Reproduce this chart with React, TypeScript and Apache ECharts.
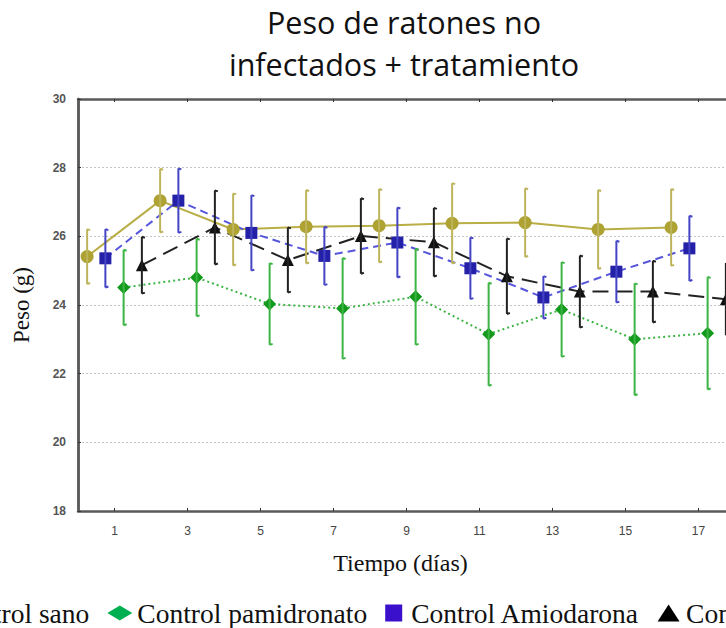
import React, { useEffect, useRef } from "react";
import * as echarts from "echarts";

// Sampling days (x axis ticks)
const DAYS = [1, 3, 5, 7, 9, 11, 13, 15, 17];
const X_TICKS = [1, 3, 5, 7, 9, 11, 13, 15, 17];

// Mean weight (g) and error per group
const sanoMean = [25.41, 27.04, 26.2, 26.28, 26.31, 26.38, 26.4, 26.2, 26.26];
const sanoErr = [0.8, 0.93, 1.05, 1.07, 1.07, 1.17, 1.0, 1.15, 1.12];

const pamiMean = [24.51, 24.8, 24.03, 23.9, 24.24, 23.15, 23.87, 23.0, 23.18];
const pamiErr = [1.1, 1.13, 1.19, 1.47, 1.4, 1.5, 1.38, 1.63, 1.64];

const amioMean = [25.36, 27.04, 26.1, 25.43, 25.82, 25.07, 24.22, 24.97, 25.65];
const amioErr = [0.85, 0.94, 1.1, 0.85, 1.02, 0.9, 0.62, 0.9, 0.95];

const combMean = [25.16, 26.26, 25.31, 26.01, 25.83, 24.84, 24.39, 24.39, 24.17];
const combErr = [0.83, 1.08, 0.95, 1.1, 1.0, 1.1, 1.05, 0.9, 1.05];

const SERIES_NAMES = [
  "Control sano",
  "Control pamidronato",
  "Control Amiodarona",
  "Control Amiodarona + pamidronato",
];

// The drawing surface is wider than the visible frame; the frame crops it.
const SHIFT = 80;
const CHART_W = 1300;
const CHART_H = 628;
const PLOT_RIGHT = 815; // x of the right axis on the drawing surface

// Legend icons (kept at their own aspect inside a 25x17 box)
const ICON_CIRCLE = "path://M8,0A8,8 0 1,1 7.99,0Z";
const ICON_DIAMOND = "path://M0,7.5L12.5,0L25,7.5L12.5,15Z";
const ICON_SQUARE = "path://M0,0H17V17H0Z";
const ICON_TRIANGLE = "path://M11,0L22,17H0Z";

type Group = {
  name: string;
  mean: number[];
  err: number[];
  dodge: number;
  color: string;
  lineColor: string;
  barColor: string;
  symbol: string;
  symbolSize: number;
  lineType: any;
};

const groups: Group[] = [
  {
    name: SERIES_NAMES[0], mean: sanoMean, err: sanoErr, dodge: -0.75,
    color: "#aea232", lineColor: "#b9ae45", barColor: "#bdb45c",
    symbol: "circle", symbolSize: 13, lineType: "solid",
  },
  {
    name: SERIES_NAMES[1], mean: pamiMean, err: pamiErr, dodge: 0.25,
    color: "#139a1c", lineColor: "#3cb444", barColor: "#3cb444",
    symbol: "diamond", symbolSize: 13, lineType: [2, 3],
  },
  {
    name: SERIES_NAMES[2], mean: amioMean, err: amioErr, dodge: -0.25,
    color: "#2420a8", lineColor: "#5656dc", barColor: "#4444c4",
    symbol: "rect", symbolSize: 12, lineType: [8, 5],
  },
  {
    name: SERIES_NAMES[3], mean: combMean, err: combErr, dodge: 0.75,
    color: "#111111", lineColor: "#222222", barColor: "#222222",
    symbol: "triangle", symbolSize: 12, lineType: [16, 8],
  },
];

function lineSeries(g: Group) {
  return {
    type: "line",
    name: g.name,
    data: DAYS.map((d, i) => [d + g.dodge, g.mean[i]]),
    symbol: g.symbol,
    symbolSize: g.symbolSize,
    itemStyle: { color: g.color },
    lineStyle: { color: g.lineColor, width: 2, type: g.lineType },
    z: 4,
  };
}

function errorSeries(g: Group) {
  return {
    type: "custom",
    name: g.name + " (error)",
    data: DAYS.map((d, i) => [d + g.dodge, g.mean[i] - g.err[i], g.mean[i] + g.err[i]]),
    encode: { x: 0, y: [1, 2] },
    renderItem: (_params: any, api: any) => {
      const x = api.value(0);
      const lo = api.coord([x, api.value(1)]);
      const hi = api.coord([x, api.value(2)]);
      const st = { stroke: g.barColor, lineWidth: 2 };
      return {
        type: "group",
        children: [
          { type: "line", shape: { x1: lo[0], y1: lo[1], x2: hi[0], y2: hi[1] }, style: st },
          { type: "line", shape: { x1: hi[0], y1: hi[1], x2: hi[0] + 3, y2: hi[1] + 1 }, style: st },
          { type: "line", shape: { x1: lo[0], y1: lo[1], x2: lo[0] + 3, y2: lo[1] - 1 }, style: st },
        ],
      };
    },
    z: 5,
  };
}

export default function App() {
  const ref = useRef<HTMLDivElement>(null);

  useEffect(() => {
    if (!ref.current) return;
    const chart = echarts.init(ref.current, undefined, { renderer: "svg" });
    const axisGrey = "#5a5a5a";
    chart.setOption({
      animation: false,
      backgroundColor: "#ffffff",
      title: {
        text: "Peso de ratones no\ninfectados + tratamiento",
        left: 479,
        top: -4,
        textAlign: "center",
        textStyle: {
          fontFamily: "Open Sans",
          fontWeight: "normal",
          fontSize: 30.5,
          lineHeight: 42,
          color: "#111",
        },
      },
      legend: {
        left: -3,
        top: 594,
        itemWidth: 25,
        itemHeight: 17,
        itemGap: 18,
        symbolKeepAspect: true,
        textStyle: { fontFamily: "Liberation Serif", fontSize: 27.5, color: "#111" },
        data: [
          { name: SERIES_NAMES[0], icon: ICON_CIRCLE, itemStyle: { color: "#aea232" } },
          { name: SERIES_NAMES[1], icon: ICON_DIAMOND, itemStyle: { color: "#00b050" } },
          { name: SERIES_NAMES[2], icon: ICON_SQUARE, itemStyle: { color: "#3a10cc" } },
          { name: SERIES_NAMES[3], icon: ICON_TRIANGLE, itemStyle: { color: "#000" } },
        ],
      },
      grid: { left: 158, right: CHART_W - PLOT_RIGHT, top: 99, bottom: 117 },
      xAxis: [
        {
          type: "value",
          min: 0,
          max: 18,
          name: "Tiempo (días)",
          nameLocation: "middle",
          nameGap: 40,
          nameTextStyle: {
            fontFamily: "Liberation Serif",
            fontSize: 24,
            color: "#111",
            padding: [0, 12, 0, 0],
          },
          axisLine: { lineStyle: { color: axisGrey, width: 2.5 } },
          axisTick: { inside: true, length: 3, customValues: X_TICKS, lineStyle: { color: "#333" } },
          axisLabel: {
            customValues: X_TICKS,
            margin: 14,
            fontFamily: "Liberation Sans",
            fontSize: 12,
            color: "#444",
          },
          splitLine: { show: false },
        },
        {
          type: "value",
          position: "top",
          min: 0,
          max: 18,
          axisLine: { lineStyle: { color: axisGrey, width: 2.5 } },
          axisTick: { inside: true, length: 3, customValues: X_TICKS, lineStyle: { color: "#333" } },
          axisLabel: { show: false },
          splitLine: { show: false },
        },
      ],
      yAxis: [
        {
          type: "value",
          min: 18,
          max: 30,
          interval: 2,
          name: "Peso (g)",
          nameLocation: "middle",
          nameGap: 45,
          nameTextStyle: { fontFamily: "Liberation Serif", fontSize: 23, color: "#111" },
          axisLine: { show: true, lineStyle: { color: axisGrey, width: 2.5 } },
          axisTick: { show: true, inside: true, length: 3, lineStyle: { color: "#333" } },
          axisLabel: {
            margin: 12,
            fontFamily: "Liberation Sans",
            fontWeight: "bold",
            fontSize: 12,
            color: "#555",
          },
          splitLine: { show: true, lineStyle: { color: "#c4c4c4", type: [2, 2], width: 1 } },
        },
        {
          type: "value",
          position: "right",
          min: 18,
          max: 30,
          interval: 2,
          axisLine: { show: true, lineStyle: { color: axisGrey, width: 2.5 } },
          axisTick: { show: false },
          axisLabel: { show: false },
          splitLine: { show: false },
        },
      ],
      series: [
        ...groups.map(lineSeries),
        ...groups.map(errorSeries),
      ],
    });
    return () => chart.dispose();
  }, []);

  return (
    <div
      style={{
        position: "fixed",
        left: 0,
        top: 0,
        width: 726,
        height: 628,
        overflow: "hidden",
        background: "#fff",
      }}
    >
      <div
        ref={ref}
        style={{ position: "absolute", left: -SHIFT, top: 0, width: CHART_W, height: CHART_H }}
      />
    </div>
  );
}
